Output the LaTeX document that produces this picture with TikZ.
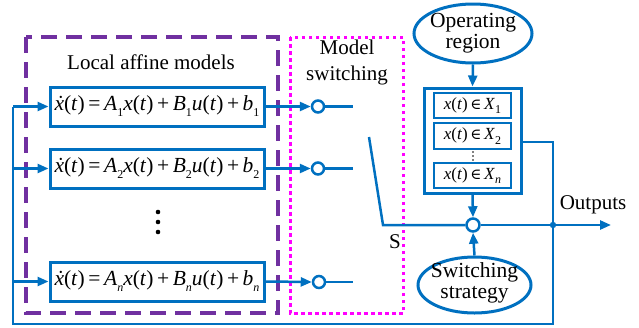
\documentclass[tikz,border=0pt]{standalone}
\usepackage{fontspec}
\setmainfont{Liberation Serif}
\newfontfamily\djv{DejaVu Serif}
\usetikzlibrary{arrows.meta,shapes.geometric}
\definecolor{lblue}{HTML}{0070C0}
\definecolor{lpurple}{HTML}{7030A0}
\definecolor{lpink}{HTML}{FF00FF}
\newcommand\vi[1]{\textit{#1}}
\newcommand\sbs[1]{\raisebox{-0.28em}{\fontsize{12}{12}\selectfont #1}}
\newcommand\xdot{\vi{\.{x}}}
\newcommand\eqline[1]{\xdot(\vi{t})\,=\,\vi{A}\sbs{#1}\vi{x}(\vi{t})\,+\,\vi{B}\sbs{#1}\vi{u}(\vi{t})\,+\,\vi{b}\sbs{#1}}
\newcommand\regline[1]{\vi{x}(\vi{t}){\djv\fontsize{15}{15}\selectfont\,∈}\,\vi{X}\sbs{#1}}
\tikzset{
  blk/.style={draw=lblue,line width=3pt,rectangle,inner sep=0pt,minimum width=214pt,minimum height=39pt,font=\fontsize{21.5}{24}\selectfont},
  sbox/.style={draw=lblue,line width=2.8pt,rectangle,inner sep=0pt,minimum width=77pt,minimum height=25pt,font=\fontsize{17}{20}\selectfont},
  wire/.style={draw=lblue,line width=2.5pt},
  arr/.style={wire,-{Triangle[length=11pt,width=9pt]}},
  term/.style={circle,draw=lblue,line width=2.5pt,fill=white,minimum size=12pt,inner sep=0pt},
  oval/.style={ellipse,draw=lblue,line width=3pt,inner sep=0pt},
  txt/.style={font=\fontsize{21}{21}\selectfont,align=center,inner sep=0pt},
}
\begin{document}
\begin{tikzpicture}[x=1pt,y=-1pt]
\useasboundingbox (0,0) rectangle (639,327);
% group boxes
\draw[lpurple,line width=3.2pt,dash pattern=on 16pt off 9pt] (26,37) rectangle (278,313);
\draw[lpink,line width=3pt,dash pattern=on 3.5pt off 3.5pt] (290,37) rectangle (403,313);
\node[txt] (ttl) at (151,62) {Local affine models};
\node[txt,font=\fontsize{21}{26}\selectfont] (ms) at (347,62) {Model\\switching};
% equation blocks
\node[blk] (eq1) at (157,106.5) {\eqline{1}};
\node[blk] (eq2) at (157,168.5) {\eqline{2}};
\node[blk] (eqn) at (157,281.5) {\eqline{\vi{n}}};
\foreach \yy in {212,222,232} \fill (158,\yy) circle (2.3pt);
% switch terminals
\node[term] (c1) at (318,106.5) {};
\node[term] (c2) at (318,168.5) {};
\node[term] (cn) at (319,282) {};
\coordinate (s1) at (353,106.5);
\coordinate (s2) at (353,168.5);
\coordinate (sn) at (353,282);
\draw[arr] (eq1.east) -- (c1.west);
\draw[arr] (eq2.east) -- (c2.west);
\draw[arr] (eqn.east) -- (cn.west);
\draw[wire] (c1.east) -- (s1);
\draw[wire] (c2.east) -- (s2);
\draw[wire] (cn.east) -- (sn);
% switch blade
\node[term,minimum size=13pt] (cs) at (473,225) {};
\coordinate (bt) at (369,137);
\coordinate (bb) at (383,225);
\draw[wire] (bt) -- (bb) -- (cs.west);
\node[txt] (S) at (395,242) {S};
% operating region
\node[oval,minimum width=118pt,minimum height=59pt] (op) at (473,33.5) {};
\node[txt,font=\fontsize{21.5}{21}\selectfont] (opt) at (473,33) {Operating\\region};
\node[draw=lblue,line width=3pt,rectangle,minimum width=97pt,minimum height=105pt,inner sep=0pt] (reg) at (472.5,140.5) {};
\node[sbox] (X1) at (472.5,105.5) {\regline{1}};
\node[sbox,minimum height=26pt] (X2) at (472.5,136) {\regline{2}};
\node[sbox] (Xn) at (472.5,175.5) {\regline{\vi{n}}};
\foreach \yy in {152,156,160} \fill (473,\yy) circle (0.9pt);
\draw[arr] (op.south) -- (reg.north);
\draw[arr] (reg.south) -- (cs.north);
% switching strategy
\node[oval,minimum width=113pt,minimum height=56pt] (ss) at (474.5,285) {};
\node[txt,font=\fontsize{21.5}{21}\selectfont] (sst) at (474.5,283) {Switching\\strategy};
\draw[arr] (ss.north) -- (cs.south);
% output
\coordinate (J) at (553,225);
\coordinate (out) at (611,225);
\draw[arr] (cs.east) -- (out);
\node[txt] (outl) at (593,205) {Outputs};
\fill[lblue] (J) circle (3.2pt);
% region feedback
\coordinate (rr) at (553,142);
\coordinate (fb) at (553,324);
\coordinate (fl) at (13,324);
\draw[wire] (reg.east |- rr) -- (rr) -- (fb) -- (fl) -- (13,106.5);
\coordinate (l1) at (13,106.5);
\coordinate (l2) at (13,168.5);
\coordinate (ln) at (13,281.5);
\draw[arr] (l1) -- (eq1.west);
\draw[arr] (l2) -- (eq2.west);
\draw[arr] (ln) -- (eqn.west);
\end{tikzpicture}
\end{document}
